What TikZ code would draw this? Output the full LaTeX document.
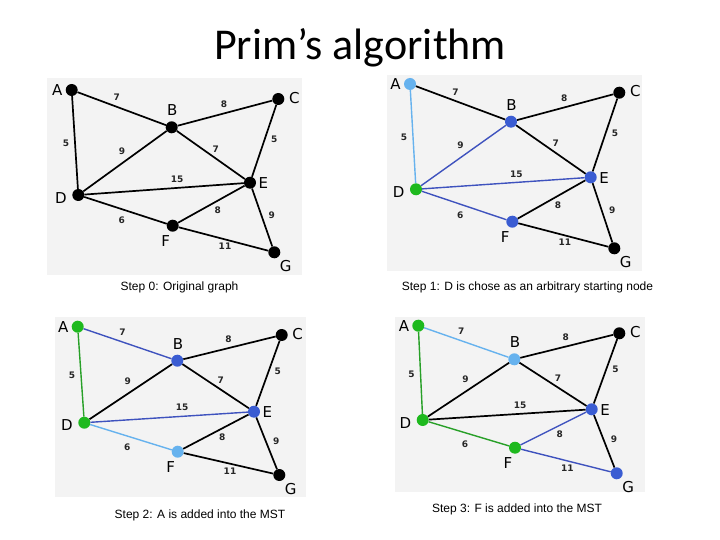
\documentclass[tikz,border=0pt]{standalone}
\usepackage{fontspec}
\setmainfont{Liberation Sans}
\newfontfamily\titlefont{Carlito}
\newfontfamily\graphfont{DejaVu Sans}
\usetikzlibrary{calc}
\definecolor{panelbg}{RGB}{243,243,243}
\definecolor{lblue}{RGB}{102,178,238}
\definecolor{mblue}{RGB}{58,92,210}
\definecolor{eblue}{RGB}{62,82,190}
\definecolor{mgreen}{RGB}{30,185,30}
\definecolor{egreen}{RGB}{40,160,40}
\tikzset{
  edge/.style={line width=1.7pt, draw=black},
  dot/.style={circle, fill=black, minimum size=12pt, inner sep=0pt},
  vlab/.style={font=\graphfont\fontsize{15}{15}\selectfont, inner sep=0pt},
  wlab/.style={font=\graphfont\bfseries\fontsize{9}{9}\selectfont, inner sep=0pt, text=black!85},
  capt/.style={font=\fontsize{12}{12}\selectfont, inner sep=0pt},
  panel/.style={fill=panelbg, draw=none},
  lbedge/.style={draw=lblue, line width=1.4pt},
  bedge/.style={draw=eblue, line width=1.4pt},
  gedge/.style={draw=egreen, line width=1.4pt},
  lbdot/.style={fill=lblue},
  bdot/.style={fill=mblue},
  gdot/.style={fill=mgreen},
  eAB/.style={}, eBC/.style={}, eAD/.style={}, eBD/.style={}, eBE/.style={},
  eCE/.style={}, eDE/.style={}, eEF/.style={}, eEG/.style={}, eDF/.style={},
  eFG/.style={},
  nA/.style={}, nB/.style={}, nC/.style={}, nD/.style={}, nE/.style={},
  nF/.style={}, nG/.style={}
}
\newcommand\prgraph[8]{%
  \node[dot,nA] (#1A) at #2 {};
  \node[dot,nB] (#1B) at #3 {};
  \node[dot,nC] (#1C) at #4 {};
  \node[dot,nD] (#1D) at #5 {};
  \node[dot,nE] (#1E) at #6 {};
  \node[dot,nF] (#1F) at #7 {};
  \node[dot,nG] (#1G) at #8 {};
  \node[vlab] (#1Al) at ($(#1A)+(-14.4,0)$) {A};
  \node[vlab] (#1Bl) at ($(#1B)+(0.6,-17)$) {B};
  \node[vlab] (#1Cl) at ($(#1C)+(16,-1.3)$) {C};
  \node[vlab] (#1Dl) at ($(#1D)+(-17.3,2.7)$) {D};
  \node[vlab] (#1El) at ($(#1E)+(13.3,0.6)$) {E};
  \node[vlab] (#1Fl) at ($(#1F)+(-7,15)$) {F};
  \node[vlab] (#1Gl) at ($(#1G)+(11.4,14)$) {G};
  \draw[edge,eAB] (#1A) -- node[midway,wlab,shift={(-5,-11)}] {7} (#1B);
  \draw[edge,eBC] (#1B) -- node[midway,wlab,shift={(-1,-9)}] {8} (#1C);
  \draw[edge,eAD] (#1A) -- node[midway,wlab,shift={(-9,1)}] {5} (#1D);
  \draw[edge,eBD] (#1B) -- node[midway,wlab,shift={(-3,-10)}] {9} (#1D);
  \draw[edge,eBE] (#1B) -- node[midway,wlab,shift={(5,-6)}] {7} (#1E);
  \draw[edge,eCE] (#1C) -- node[midway,wlab,shift={(10,-2)}] {5} (#1E);
  \draw[edge,eDE] (#1D) -- node[midway,wlab,shift={(13,-9.5)}] {15} (#1E);
  \draw[edge,eEF] (#1E) -- node[midway,wlab,shift={(6.4,6)}] {8} (#1F);
  \draw[edge,eEG] (#1E) -- node[midway,wlab,shift={(9.7,-2.5)}] {9} (#1G);
  \draw[edge,eDF] (#1D) -- node[midway,wlab,shift={(-3.8,10)}] {6} (#1F);
  \draw[edge,eFG] (#1F) -- node[midway,wlab,shift={(1.5,7.7)}] {11} (#1G);
}
\begin{document}
\begin{tikzpicture}[x=1pt,y=-1pt]
  \useasboundingbox (0,0) rectangle (720,540);
  \fill[white] (0,0) rectangle (720,540);
  \node[font=\titlefont\fontsize{44}{44}\selectfont, anchor=base, inner sep=0pt] (title) at (360,60) {Prim’s algorithm};
  % panels
  \fill[panel] (47,78) rectangle (302,275);
  \fill[panel] (387,75) rectangle (642,271);
  \fill[panel] (55,317) rectangle (306,497);
  \fill[panel] (395,317) rectangle (645,492);
  % Step 0
  \begin{scope}
    \prgraph{pa}{(71.7,90)}{(171.7,127.3)}{(278.3,99)}{(78.3,195)}{(250,182.7)}{(172.7,225.7)}{(274.3,252.3)}
  \end{scope}
  % Step 1
  \begin{scope}[nA/.style={lbdot}, nB/.style={bdot}, nD/.style={gdot}, nE/.style={bdot}, nF/.style={bdot},
                eAD/.style={lbedge}, eBD/.style={bedge}, eDE/.style={bedge}, eDF/.style={bedge}]
    \prgraph{pb}{(410,84)}{(511,121.7)}{(619.3,92.7)}{(416,189.3)}{(590.7,177.3)}{(512.3,221.7)}{(614.3,248.3)}
  \end{scope}
  % Step 2
  \begin{scope}[nA/.style={gdot}, nB/.style={bdot}, nD/.style={gdot}, nE/.style={bdot}, nF/.style={lbdot},
                eAD/.style={gedge}, eAB/.style={bedge}, eDE/.style={bedge}, eDF/.style={lbedge}]
    \prgraph{pc}{(77.7,326.7)}{(177.3,360.7)}{(281.7,335)}{(84.3,422.7)}{(254,411.7)}{(177.7,451.7)}{(279.3,475)}
  \end{scope}
  % Step 3
  \begin{scope}[nA/.style={gdot}, nB/.style={lbdot}, nD/.style={gdot}, nE/.style={bdot}, nF/.style={gdot}, nG/.style={bdot},
                eAD/.style={gedge}, eDF/.style={gedge}, eAB/.style={lbedge}, eEF/.style={bedge}, eFG/.style={bedge}]
    \prgraph{pd}{(418.3,325.7)}{(514.3,359.3)}{(619.3,333.3)}{(422.7,420)}{(591.7,409.3)}{(515,447.7)}{(616.7,473.3)}
  \end{scope}
  % captions
  \node[capt] (c0) at (179.5,287) {Step 0: Original graph};
  \node[capt] (c1) at (527.5,287) {Step 1: D is chose as an arbitrary starting node};
  \node[capt] (c2) at (200,515) {Step 2: A is added into the MST};
  \node[capt] (c3) at (517,509) {Step 3: F is added into the MST};
\end{tikzpicture}
\end{document}
